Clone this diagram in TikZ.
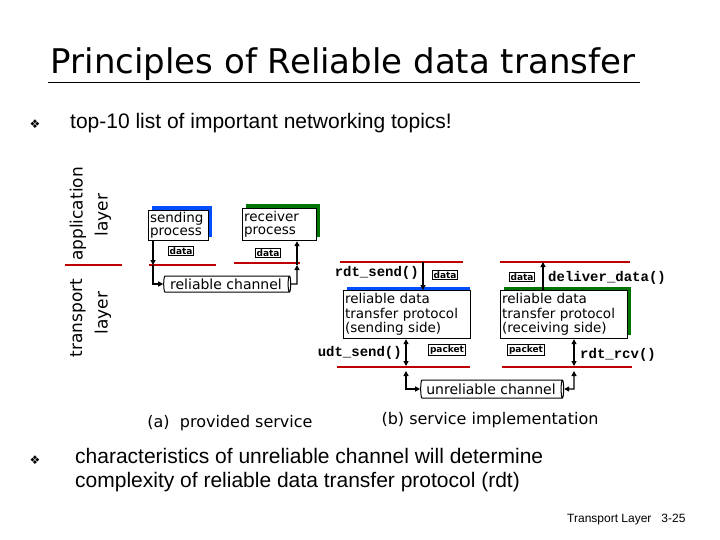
\documentclass[tikz,border=0pt]{standalone}
\usepackage{fontspec}
\setmainfont{Liberation Sans}
\newfontfamily\symf{DejaVu Sans}
\newfontfamily\djv{DejaVu Sans}
\setmonofont{Liberation Mono}
\usetikzlibrary{shapes.geometric,arrows.meta}
\begin{document}
\begin{tikzpicture}[x=1pt,y=-1pt,
  redl/.style={draw=red!75!black,line width=2.2pt},
  box/.style={draw,line width=1.2pt,fill=white,align=left,inner sep=1.5pt},
  small/.style={draw,line width=1.1pt,inner sep=1.2pt,font=\djv\bfseries\fontsize{9}{9}\selectfont},
  fn/.style={font=\ttfamily\bfseries\fontsize{14}{14}\selectfont,inner sep=0},
  chan/.style={cylinder,draw,line width=1pt,aspect=0.2,inner sep=1pt,font=\djv\fontsize{14}{14}\selectfont},
  arr/.style={line width=1.2pt,-{Triangle[length=5pt,width=5pt]}},
  darr/.style={line width=1.2pt,{Triangle[length=5pt,width=5pt]}-{Triangle[length=5pt,width=5pt]}},
  lbl/.style={font=\djv\fontsize{16}{16}\selectfont,inner sep=0},
  lay/.style={rotate=90,font=\djv\fontsize{17}{17}\selectfont,inner sep=0}]
\useasboundingbox (0,0) rectangle (720,540);
\node[font=\djv\fontsize{34}{34}\selectfont,inner sep=0] (title) at (343,64) {Principles of Reliable data transfer};
\draw[line width=1pt] (48,83) -- (640,83);
\node[font=\symf\fontsize{12}{12}\selectfont] (b1) at (35,124) {❖};
\node[anchor=west,font=\fontsize{21}{21}\selectfont,inner sep=0] (t1) at (70,123) {top-10 list of important networking topics!};
% layer labels
\node[lay] (app) at (78,214) {application};
\node[lay] (al) at (103,215) {layer};
\node[lay] (tr) at (78,318) {transport};
\node[lay] (tl) at (103,313) {layer};
\draw[redl] (65,265) -- (122,265);
% (a)
\fill[blue!70!cyan] (152,206) rectangle (212,237);
\node[box,minimum width=60pt,minimum height=30pt,anchor=north west,text width=57pt,font=\djv\fontsize{13.5}{13}\selectfont] (sp) at (148,210) {sending\\process};
\fill[green!45!black] (246,204) rectangle (320,237);
\node[box,minimum width=74pt,minimum height=32pt,anchor=north west,text width=71pt,font=\djv\fontsize{13.5}{13}\selectfont] (rp) at (242,208) {receiver\\process};
\node[small] (d1) at (181,251) {data};
\node[small] (d2) at (268,253) {data};
\draw[redl] (149,265) -- (216,265);
\draw[redl] (234,263) -- (300,263);
\node[chan,minimum height=127pt,minimum width=16pt] (rc) at (226,284) {reliable channel};
\coordinate (ra) at (153,284);
\coordinate (rb) at (297,284);
\draw[arr] (sp.south west-|ra) -- (153,265);
\draw[arr] (153,265) -- (ra) -- (rc.west);
\draw[arr] (rc.east) -- (rb) -- (297,265);
\draw[arr] (297,265) -- (rb|-rp.south);
\node[lbl] (pa) at (230,423) {(a)\ \ provided service};
% (b)
\draw[redl] (340,262) -- (463,262);
\draw[redl] (500,262) -- (630,262);
\fill[blue!70!cyan] (347,287) rectangle (470,335);
\node[box,minimum width=123pt,minimum height=48pt,anchor=north west,text width=124pt,font=\djv\fontsize{13.5}{14.5}\selectfont] (ss) at (343,290) {reliable data\\transfer protocol\\(sending side)};
\fill[green!45!black] (504,287) rectangle (631,335);
\node[box,minimum width=127pt,minimum height=48pt,anchor=north west,text width=124pt,font=\djv\fontsize{13.5}{14.5}\selectfont] (rs) at (500,290) {reliable data\\transfer protocol\\(receiving side)};
\node[fn,anchor=east] (rs1) at (419,273) {rdt\_send()};
\coordinate (sa) at (423,262);
\draw[arr] (sa) -- (sa|-ss.north);
\node[small] (d3) at (445,275) {data};
\node[small] (d4) at (522,277) {data};
\coordinate (da) at (543,262);
\draw[arr] (da|-rs.north) -- (da);
\node[fn,anchor=west] (dd) at (548,278) {deliver\_data()};
\node[fn,anchor=east] (us) at (402,353) {udt\_send()};
\coordinate (ua) at (406,366);
\draw[darr] (ua|-ss.south) -- (ua);
\node[small] (p1) at (447,350) {packet};
\node[small] (p2) at (526,350) {packet};
\coordinate (va) at (574,366);
\draw[darr] (va|-rs.south) -- (va);
\node[fn,anchor=west] (rr) at (580,355) {rdt\_rcv()};
\draw[redl] (337,367) -- (470,367);
\draw[redl] (502,367) -- (632,367);
\node[chan,minimum height=143pt,minimum width=18pt] (uc) at (491,389) {unreliable channel};
\coordinate (ub) at (406,389);
\coordinate (vb) at (574,389);
\draw[darr] (uc.west) -- (ub) -- (406,371);
\draw[darr] (uc.east) -- (vb) -- (574,371);
\node[lbl] (pb) at (490,420) {(b) service implementation};
% bottom
\node[font=\symf\fontsize{12}{12}\selectfont] (b2) at (35,460) {❖};
\node[anchor=north west,align=left,font=\fontsize{21}{24}\selectfont,inner sep=0] (t2) at (75,448) {characteristics of unreliable channel will determine\\complexity of reliable data transfer protocol (rdt)};
\node[anchor=west,font=\fontsize{12}{12}\selectfont,inner sep=0] (ft) at (567,520) {Transport Layer\ \ \ 3-25};
\end{tikzpicture}
\end{document}
